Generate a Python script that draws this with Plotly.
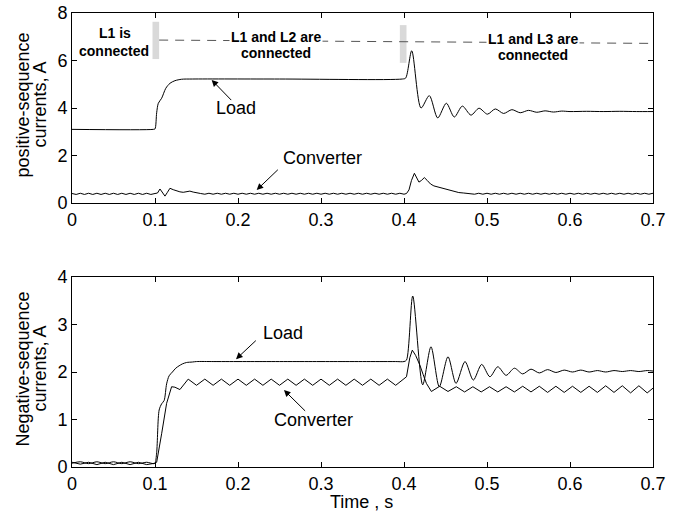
import plotly.graph_objects as go

FONT = "Liberation Sans, Arial, sans-serif"

# ---------------- data ----------------
# top panel: positive-sequence currents, A
pos_load_t = [0.000, 0.098, 0.100, 0.102, 0.104, 0.108, 0.113, 0.118, 0.124, 0.132, 0.145,
              0.250, 0.398, 0.402, 0.4093, 0.4205, 0.4305, 0.4406, 0.451, 0.4606, 0.4703,
              0.4807, 0.4904, 0.5005, 0.510, 0.520, 0.530, 0.540, 0.550, 0.560, 0.570,
              0.580, 0.590, 0.600, 0.620, 0.640, 0.660, 0.680, 0.700]
pos_load_v = [3.10, 3.10, 3.12, 3.80, 4.20, 4.41, 4.83, 5.04, 5.15, 5.21, 5.22,
              5.22, 5.22, 5.26, 6.41, 4.00, 4.52, 3.58, 4.20, 3.62, 4.08,
              3.70, 3.99, 3.74, 3.96, 3.77, 3.93, 3.80, 3.90, 3.82, 3.88,
              3.83, 3.87, 3.85, 3.86, 3.85, 3.86, 3.85, 3.85]

pos_conv_t = [0.000, 0.005, 0.010, 0.015, 0.020, 0.025, 0.030, 0.035, 0.040, 0.045, 0.050,
              0.055, 0.060, 0.065, 0.070, 0.075, 0.080, 0.085, 0.090, 0.095, 0.100,
              0.103, 0.106, 0.109, 0.112, 0.115, 0.118, 0.122, 0.126, 0.130, 0.134,
              0.138, 0.142, 0.146, 0.150, 0.155,
              0.160, 0.165, 0.170, 0.175, 0.180, 0.185, 0.190, 0.195, 0.200, 0.205,
              0.210, 0.215, 0.220, 0.225, 0.230, 0.235, 0.240, 0.245, 0.250, 0.255,
              0.260, 0.265, 0.270, 0.275, 0.280, 0.285, 0.290, 0.295, 0.300, 0.305,
              0.310, 0.315, 0.320, 0.325, 0.330, 0.335, 0.340, 0.345, 0.350, 0.355,
              0.360, 0.365, 0.370, 0.375, 0.380, 0.385, 0.390, 0.395, 0.400,
              0.403, 0.406, 0.409, 0.4125, 0.415, 0.418, 0.421, 0.4245, 0.428, 0.432,
              0.436, 0.440, 0.445, 0.450, 0.455, 0.460, 0.466, 0.472, 0.478,
              0.485, 0.490, 0.495, 0.500, 0.505, 0.510, 0.515, 0.520, 0.525, 0.530,
              0.535, 0.540, 0.545, 0.550, 0.555, 0.560, 0.565, 0.570, 0.575, 0.580,
              0.585, 0.590, 0.595, 0.600, 0.605, 0.610, 0.615, 0.620, 0.625, 0.630,
              0.635, 0.640, 0.645, 0.650, 0.655, 0.660, 0.665, 0.670, 0.675, 0.680,
              0.685, 0.690, 0.695, 0.700]
pos_conv_v = [0.40, 0.36, 0.41, 0.36, 0.41, 0.36, 0.41, 0.36, 0.41, 0.36, 0.41,
              0.36, 0.41, 0.36, 0.41, 0.36, 0.41, 0.36, 0.41, 0.36, 0.40,
              0.42, 0.59, 0.45, 0.29, 0.45, 0.62, 0.56, 0.50, 0.47, 0.45,
              0.48, 0.50, 0.46, 0.42, 0.40,
              0.37, 0.41, 0.37, 0.41, 0.37, 0.41, 0.37, 0.41, 0.37, 0.41,
              0.37, 0.41, 0.37, 0.41, 0.37, 0.41, 0.37, 0.41, 0.37, 0.41,
              0.37, 0.41, 0.37, 0.41, 0.37, 0.41, 0.37, 0.41, 0.37, 0.41,
              0.37, 0.41, 0.37, 0.41, 0.37, 0.41, 0.37, 0.41, 0.37, 0.41,
              0.37, 0.41, 0.37, 0.41, 0.37, 0.41, 0.37, 0.41, 0.37,
              0.40, 0.55, 0.95, 1.25, 1.10, 0.88, 0.95, 1.07, 0.95, 0.80,
              0.72, 0.68, 0.65, 0.60, 0.52, 0.47, 0.44, 0.42, 0.41,
              0.37, 0.41, 0.37, 0.41, 0.37, 0.41, 0.37, 0.41, 0.37, 0.41,
              0.37, 0.41, 0.37, 0.41, 0.37, 0.41, 0.37, 0.41, 0.37, 0.41,
              0.37, 0.41, 0.37, 0.41, 0.37, 0.41, 0.37, 0.41, 0.37, 0.41,
              0.37, 0.41, 0.37, 0.41, 0.37, 0.41, 0.37, 0.41, 0.37, 0.41,
              0.37, 0.41, 0.37, 0.41]

# bottom panel: negative-sequence currents, A
neg_load_t = [0.000, 0.010, 0.020, 0.030, 0.040, 0.050, 0.060, 0.070, 0.080, 0.090, 0.098,
              0.100, 0.102, 0.105, 0.108, 0.111, 0.114, 0.117, 0.121, 0.125, 0.129,
              0.133, 0.138, 0.145,
              0.150, 0.170, 0.190, 0.210, 0.230, 0.250, 0.270, 0.290, 0.310, 0.330,
              0.350, 0.370, 0.390, 0.400,
              0.403, 0.4105, 0.4225, 0.4325, 0.4425, 0.453, 0.4627, 0.4735, 0.4835, 0.4936,
              0.5035, 0.513, 0.523, 0.533, 0.543, 0.553, 0.563, 0.573, 0.583, 0.593,
              0.603, 0.613, 0.623, 0.633, 0.643, 0.653, 0.663, 0.673, 0.683, 0.693, 0.700]
neg_load_v = [0.08, 0.11, 0.07, 0.11, 0.07, 0.11, 0.07, 0.11, 0.07, 0.10, 0.07,
              0.08, 0.30, 1.20, 1.33, 1.40, 1.75, 1.92, 2.00, 2.08, 2.13,
              2.17, 2.20, 2.21,
              2.22, 2.22, 2.22, 2.22, 2.22, 2.22, 2.22, 2.22, 2.22, 2.22,
              2.22, 2.22, 2.22, 2.22,
              2.25, 3.60, 1.73, 2.53, 1.69, 2.32, 1.76, 2.22, 1.83, 2.16,
              1.90, 2.11, 1.93, 2.08, 1.96, 2.06, 1.98, 2.05, 1.99, 2.04,
              2.00, 2.04, 2.00, 2.03, 2.00, 2.03, 2.01, 2.03, 2.01, 2.03, 2.02]

neg_conv_t = [0.000, 0.010, 0.020, 0.030, 0.040, 0.050, 0.060, 0.070, 0.080, 0.090, 0.100,
              0.102, 0.108, 0.114, 0.120, 0.124, 0.130,
              0.140, 0.150, 0.160, 0.170, 0.180, 0.190, 0.200, 0.210, 0.220, 0.230,
              0.240, 0.250, 0.260, 0.270, 0.280, 0.290, 0.300, 0.310, 0.320, 0.330,
              0.340, 0.350, 0.360, 0.370, 0.380, 0.390,
              0.403, 0.407, 0.410, 0.414, 0.419, 0.423, 0.427,
              0.433, 0.443, 0.453, 0.463, 0.473, 0.483, 0.493, 0.503, 0.513, 0.523,
              0.533, 0.543, 0.553, 0.563, 0.573, 0.583, 0.593, 0.603, 0.613, 0.623,
              0.633, 0.643, 0.653, 0.663, 0.673, 0.683, 0.693, 0.700]
neg_conv_v = [0.10, 0.06, 0.10, 0.05, 0.10, 0.05, 0.10, 0.05, 0.10, 0.05, 0.08,
              0.10, 0.70, 1.34, 1.69, 1.68, 1.63,
              1.85, 1.72, 1.85, 1.72, 1.85, 1.72, 1.85, 1.72, 1.85, 1.72,
              1.85, 1.72, 1.85, 1.72, 1.85, 1.72, 1.85, 1.72, 1.85, 1.72,
              1.85, 1.72, 1.85, 1.72, 1.85, 1.72,
              1.90, 2.30, 2.46, 2.35, 2.15, 1.95, 1.76,
              1.59, 1.70, 1.59, 1.69, 1.58, 1.69, 1.58, 1.69, 1.58, 1.69,
              1.58, 1.70, 1.58, 1.70, 1.57, 1.70, 1.57, 1.70, 1.57, 1.70,
              1.57, 1.71, 1.57, 1.71, 1.56, 1.71, 1.56, 1.66]

x_ticks = [0, 0.1, 0.2, 0.3, 0.4, 0.5, 0.6, 0.7]
x_tick_text = ["0", "0.1", "0.2", "0.3", "0.4", "0.5", "0.6", "0.7"]
pos_y_ticks = [0, 2, 4, 6, 8]
neg_y_ticks = [0, 1, 2, 3, 4]

# switching events (gray markers) and the dashed event line
switch_t = [0.097, 0.105, 0.395, 0.403]
switch_v = [6.06, 7.63, 5.90, 7.49]
event_line_t = [0.105, 0.700]
event_line_v = [6.86, 6.72]

# ---------------- figure ----------------
fig = go.Figure()
line_style = dict(color="black", width=1)
fig.add_trace(go.Scatter(x=pos_load_t, y=pos_load_v, mode="lines",
                         line=dict(color="black", width=1, shape="spline", smoothing=0.8),
                         xaxis="x", yaxis="y", showlegend=False, hoverinfo="skip"))
fig.add_trace(go.Scatter(x=pos_conv_t, y=pos_conv_v, mode="lines", line=line_style,
                         xaxis="x", yaxis="y", showlegend=False, hoverinfo="skip"))
fig.add_trace(go.Scatter(x=neg_load_t, y=neg_load_v, mode="lines",
                         line=dict(color="black", width=1, shape="spline", smoothing=0.8),
                         xaxis="x2", yaxis="y2", showlegend=False, hoverinfo="skip"))
fig.add_trace(go.Scatter(x=neg_conv_t, y=neg_conv_v, mode="lines", line=line_style,
                         xaxis="x2", yaxis="y2", showlegend=False, hoverinfo="skip"))

axis_common = dict(showgrid=False, zeroline=False, showline=True, linecolor="black",
                   linewidth=1, mirror="ticks", ticks="inside", ticklen=5,
                   tickcolor="black", tickfont=dict(family=FONT, size=18, color="black"))

fig.update_layout(
    width=680, height=513,
    margin=dict(l=72, r=27, t=13, b=46, autoexpand=False),
    paper_bgcolor="white", plot_bgcolor="white",
    font=dict(family=FONT, color="black"),
    xaxis=dict(domain=[0, 1], range=[0, 0.7], anchor="y", tickvals=x_ticks,
               ticktext=x_tick_text, **axis_common),
    yaxis=dict(domain=[0.5815, 1], range=[0, 8], anchor="x", tickvals=pos_y_ticks,
               **axis_common),
    xaxis2=dict(domain=[0, 1], range=[0, 0.7], anchor="y2", tickvals=x_ticks,
                ticktext=x_tick_text, **axis_common),
    yaxis2=dict(domain=[0, 0.4185], range=[0, 4], anchor="x2", tickvals=neg_y_ticks,
                **axis_common),
)

# gray switching bars and dashed line
shapes = [
    dict(type="rect", xref="x", yref="y", x0=switch_t[0], x1=switch_t[1],
         y0=switch_v[0], y1=switch_v[1], fillcolor="#d9d9d9", line=dict(width=0)),
    dict(type="rect", xref="x", yref="y", x0=switch_t[2], x1=switch_t[3],
         y0=switch_v[2], y1=switch_v[3], fillcolor="#d9d9d9", line=dict(width=0)),
    dict(type="line", xref="x", yref="y", x0=event_line_t[0], x1=event_line_t[1],
         y0=event_line_v[0], y1=event_line_v[1],
         line=dict(color="#555555", width=1, dash="9px,7px")),
]
fig.update_layout(shapes=shapes)

ann = []
bold = dict(family=FONT, size=14, color="black")
def event_text(txt, x, y, bg=True):
    ann.append(dict(text="<b>%s</b>" % txt, x=x, y=y, xref="x", yref="y",
                    showarrow=False, font=bold, bgcolor="white" if bg else None,
                    borderpad=1, xanchor="center", yanchor="middle"))

event_text("L1 is", 0.0515, 7.14, bg=False)
event_text("connected", 0.051, 6.40, bg=False)
event_text("L1 and L2 are", 0.2456, 6.97)
event_text("connected", 0.2456, 6.33, bg=False)
event_text("L1 and L3 are", 0.5552, 6.90)
event_text("connected", 0.5552, 6.22, bg=False)

lab = dict(family=FONT, size=18, color="black")
def label(txt, x, y, xr, yr):
    ann.append(dict(text=txt, x=x, y=y, xref=xr, yref=yr, showarrow=False, font=lab,
                    xanchor="center", yanchor="middle"))

def arrow(hx, hy, tx, ty, xr, yr):
    ann.append(dict(text="", x=hx, y=hy, ax=tx, ay=ty, xref=xr, yref=yr, axref=xr,
                    ayref=yr, showarrow=True, arrowhead=2, arrowsize=1.3,
                    arrowwidth=1, arrowcolor="black", standoff=0))

label("Load", 0.198, 3.99, "x", "y")
arrow(0.1683, 5.18, 0.1936, 4.27, "x", "y")
label("Converter", 0.3018, 1.88, "x", "y")
arrow(0.2225, 0.547, 0.2498, 1.46, "x", "y")
label("Load", 0.2542, 2.815, "x2", "y2")
arrow(0.1976, 2.27, 0.2233, 2.69, "x2", "y2")
label("Converter", 0.2906, 0.996, "x2", "y2")
arrow(0.2554, 1.62, 0.2827, 1.15, "x2", "y2")

def ytitle(txt, xp, yp):
    ann.append(dict(text=txt, x=xp, y=yp, xref="paper", yref="paper", showarrow=False,
                    font=lab, textangle=-90, xanchor="center", yanchor="middle"))

ytitle("positive-sequence", -0.0852, 0.7974)
ytitle("currents, A", -0.0559, 0.7974)
ytitle("Negative-sequence", -0.0852, 0.2159)
ytitle("currents, A", -0.0559, 0.2159)

ann.append(dict(text="Time , s", x=0.4986, y=-0.0771, xref="paper", yref="paper",
                showarrow=False, font=lab, xanchor="center", yanchor="middle"))

fig.update_layout(annotations=ann)

fig.write_html("out.html", config={"displayModeBar": False},
               post_script="document.body.style.margin='0';document.body.style.padding='0';")
